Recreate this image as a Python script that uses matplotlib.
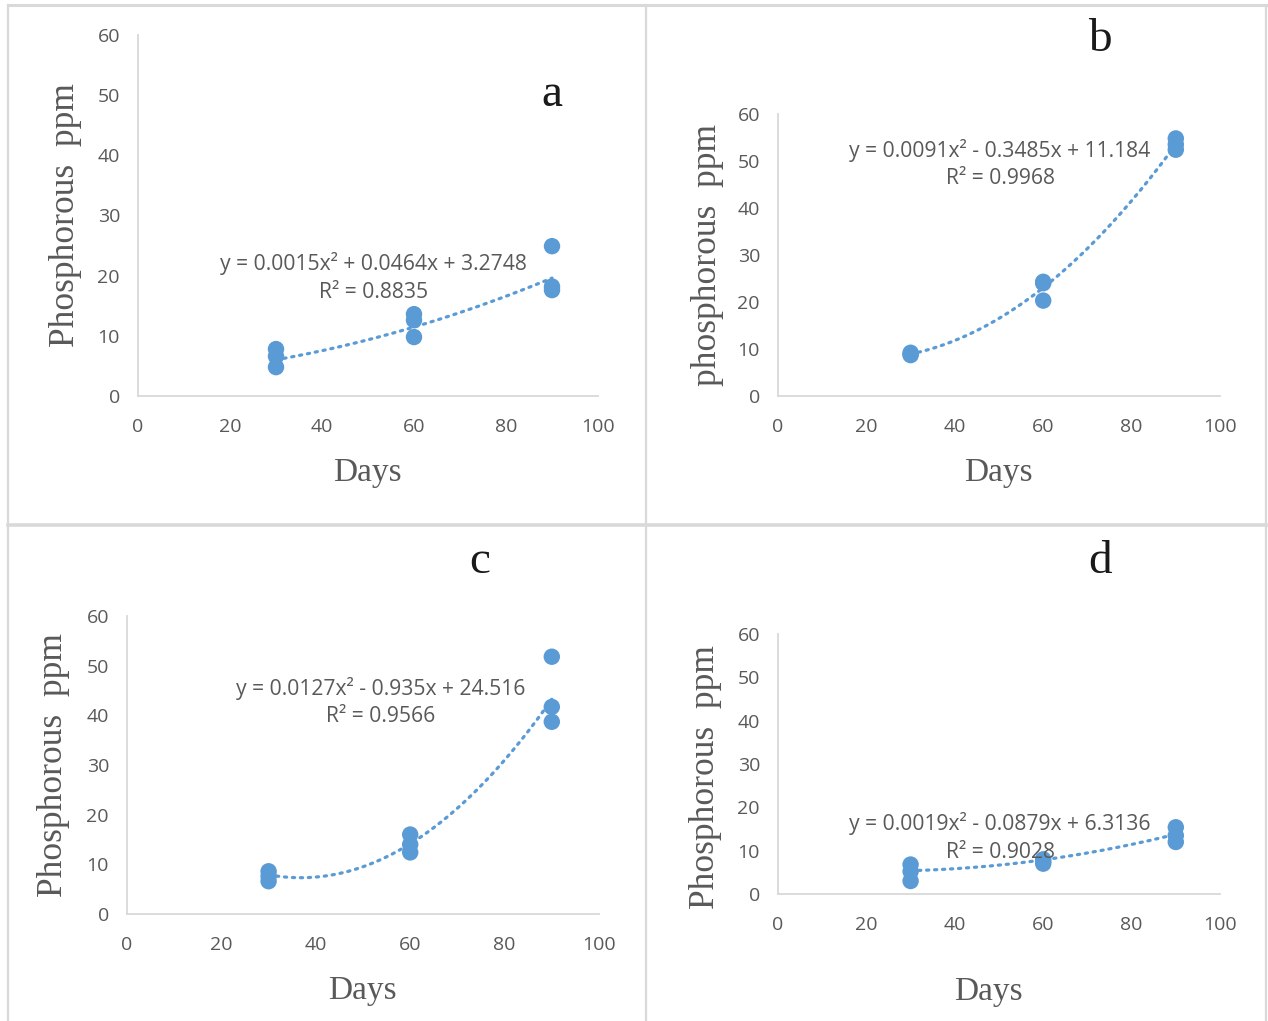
import numpy as np
import matplotlib
matplotlib.use("Agg")
import matplotlib.pyplot as plt
from matplotlib.lines import Line2D

# ---------------- data ----------------
days_a = [30, 30, 30, 60, 60, 60, 90, 90, 90]
p_a = [7.8, 6.6, 4.8, 13.6, 12.6, 9.8, 24.9, 18.2, 17.6]
coef_a = [0.0015, 0.0464, 3.2748]
eq_a = "y = 0.0015x² + 0.0464x + 3.2748"
r2_a = "R² = 0.8835"

days_b = [30, 30, 30, 60, 60, 60, 90, 90, 90]
p_b = [8.7, 9.2, 8.9, 24.0, 24.3, 20.3, 54.8, 53.5, 52.4]
coef_b = [0.0091, -0.3485, 11.184]
eq_b = "y = 0.0091x² - 0.3485x + 11.184"
r2_b = "R² = 0.9968"

days_c = [30, 30, 30, 60, 60, 60, 90, 90, 90]
p_c = [8.6, 7.6, 6.6, 16.0, 14.0, 12.4, 51.8, 41.7, 38.7]
coef_c = [0.0127, -0.935, 24.516]
eq_c = "y = 0.0127x² - 0.935x + 24.516"
r2_c = "R² = 0.9566"

days_d = [30, 30, 30, 60, 60, 60, 90, 90, 90]
p_d = [6.8, 5.2, 3.0, 8.0, 7.5, 7.0, 15.4, 13.5, 12.0]
coef_d = [0.0019, -0.0879, 6.3136]
eq_d = "y = 0.0019x² - 0.0879x + 6.3136"
r2_d = "R² = 0.9028"

ylabels = ["Phosphorous  ppm", "phosphorous  ppm", "Phosphorous  ppm", "Phosphorous  ppm"]
xlabel = "Days"
letters = ["a", "b", "c", "d"]
xticks = [0, 20, 40, 60, 80, 100]
yticks = [0, 10, 20, 30, 40, 50, 60]

# ---------------- layout ----------------
W, H = 1268, 1021
fig = plt.figure(figsize=(W / 100, H / 100), dpi=100)
fig.patch.set_facecolor("white")

BLUE = "#5B9BD5"
GRAY = "#595959"
SPINE = "#D9D9D9"
TICKFONT = "Open Sans"
SERIF = "Liberation Serif"


def px_axes(l, r, b, t):
    return fig.add_axes([l / W, (H - b) / H, (r - l) / W, (b - t) / H])


def fx(x):
    return x / W


def fy(y):
    return (H - y) / H


panels = [
    dict(box=(138, 598, 396, 35), days=days_a, p=p_a, coef=coef_a, eq=eq_a, r2=r2_a,
         eqpos=(373, 263), r2pos=(374, 292), xl=(367, 473), yl=(65, 215), let=(552, 95)),
    dict(box=(778, 1220, 396, 114), days=days_b, p=p_b, coef=coef_b, eq=eq_b, r2=r2_b,
         eqpos=(1000, 150), r2pos=(1000, 179), xl=(998, 473), yl=(707, 255), let=(1100, 40)),
    dict(box=(127, 599, 914, 616), days=days_c, p=p_c, coef=coef_c, eq=eq_c, r2=r2_c,
         eqpos=(381, 688), r2pos=(381, 717), xl=(362, 991), yl=(54, 765), let=(480, 562)),
    dict(box=(778, 1220, 894, 634), days=days_d, p=p_d, coef=coef_d, eq=eq_d, r2=r2_d,
         eqpos=(1000, 823), r2pos=(1000, 852), xl=(988, 992), yl=(705, 777), let=(1100, 562)),
]

for i, pn in enumerate(panels):
    l, r, b, t = pn["box"]
    ax = px_axes(l, r, b, t)
    ax.set_xlim(0, 100)
    ax.set_ylim(0, 60)
    ax.set_xticks(xticks)
    ax.set_yticks(yticks)
    for s in ["top", "right"]:
        ax.spines[s].set_visible(False)
    for s in ["left", "bottom"]:
        ax.spines[s].set_color(SPINE)
        ax.spines[s].set_linewidth(1.3)
    ax.tick_params(axis="both", length=0, labelcolor=GRAY, labelsize=14)
    ax.tick_params(axis="y", pad=13)
    ax.tick_params(axis="x", pad=16)
    for lab in ax.get_xticklabels() + ax.get_yticklabels():
        lab.set_fontfamily(TICKFONT)

    # trendline
    xs = np.linspace(30, 90, 200)
    ys = np.polyval(pn["coef"], xs)
    ax.plot(xs, ys, color=BLUE, lw=2.3, linestyle=(0, (0.7, 1.8)),
            dash_capstyle="round", zorder=2)
    ax.scatter(pn["days"], pn["p"], s=140, color=BLUE, edgecolors="none", zorder=3)
    ax.set_facecolor("none")

    fig.text(fx(pn["eqpos"][0]), fy(pn["eqpos"][1]), pn["eq"], ha="center", va="center",
             fontsize=15.2, color=GRAY, family=TICKFONT)
    fig.text(fx(pn["r2pos"][0]), fy(pn["r2pos"][1]), pn["r2"], ha="center", va="center",
             fontsize=15.2, color=GRAY, family=TICKFONT)
    fig.text(fx(pn["xl"][0]), fy(pn["xl"][1]), xlabel, ha="center", va="center",
             fontsize=24, color=GRAY, family=SERIF)
    fig.text(fx(pn["yl"][0]), fy(pn["yl"][1]), ylabels[i], ha="center", va="center",
             fontsize=25.5, color=GRAY, family=SERIF, rotation=90)
    fig.text(fx(pn["let"][0]), fy(pn["let"][1]), letters[i], ha="center", va="center",
             fontsize=34, color="#1a1a1a", family=SERIF)

# frame lines
frame_kw = dict(color=SPINE, transform=fig.transFigure)
fig.add_artist(Line2D([fx(8), fx(1266)], [fy(5), fy(5)], lw=2.2, **frame_kw))
fig.add_artist(Line2D([fx(8), fx(8)], [fy(5), fy(1021)], lw=1.6, **frame_kw))
fig.add_artist(Line2D([fx(1266), fx(1266)], [fy(5), fy(1021)], lw=1.6, **frame_kw))
fig.add_artist(Line2D([fx(646), fx(646)], [fy(5), fy(1021)], lw=1.6, **frame_kw))
fig.add_artist(Line2D([fx(8), fx(1266)], [fy(525), fy(525)], lw=2.6, **frame_kw))

fig.savefig("out.png", dpi=100)
